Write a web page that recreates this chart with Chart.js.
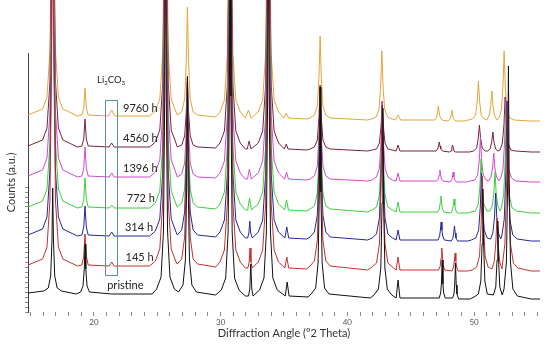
<!DOCTYPE html>
<html><head><meta charset="utf-8">
<script src="https://cdn.jsdelivr.net/npm/chart.js@4/dist/chart.umd.min.js"></script>
<style>html,body{margin:0;padding:0;background:#fff}#wrap{width:550px;height:344px;position:relative}</style>
</head><body><div id="wrap"><canvas id="c"></canvas></div>
<script>
// ---- data (2-theta in degrees, intensity in a.u. above each trace's own baseline) ----
const seriesNames = ['pristine','145 h','314 h','772 h','1396 h','4560 h','9760 h'];
const seriesOffsets = [19, 47, 77, 105, 136, 166, 197];
const seriesColors = ['#111111','#c62f2f','#23289c','#3ccf3c','#cf4acf','#7b2336','#e6a53a'];

const pristine = [[14.8,0],
[16.05,2],[16.40,5],[16.59,17],[16.69,52],[16.75,105],[16.81,52],[16.91,17],[17.10,5],[17.45,2],
[18.6,-1],
[18.95,1],[19.14,7],[19.24,24],[19.3,49],[19.36,24],[19.46,7],[19.65,1],
[21.4,-1],[24.6,-1],
[24.95,4],[25.30,16],[25.49,62],[25.59,198],[25.65,398],[25.71,198],[25.81,62],[26.00,16],[26.35,4],
[26.68,1],[27.03,8],[27.22,33],[27.32,107],[27.38,216],[27.44,107],[27.54,33],[27.73,8],[28.08,1],
[29.6,-2],
[30.05,3],[30.40,15],[30.59,61],[30.69,197],[30.75,397],[30.81,197],[30.91,61],[31.10,15],[31.45,3],
[31.95,-3],
[32.2,-3],[32.3,4],[32.38,29],[32.46,4],[32.56,-3],
[33.07,3],[33.42,15],[33.61,61],[33.71,197],[33.77,397],[33.83,197],[33.93,61],[34.12,15],[34.47,3],
[35.1,-3],[35.25,11],[35.4,-3],
[36.9,-4],
[37.15,-1],[37.50,5],[37.69,30],[37.79,101],[37.85,206],[37.91,101],[38.01,30],[38.20,5],[38.55,-1],
[41.8,-5],
[42.10,-2],[42.45,4],[42.64,25],[42.74,90],[42.80,185],[42.86,90],[42.96,25],[43.15,4],[43.5,-2],
[43.85,-5],[44.0,13],[44.15,-5],
[47.25,-5],[47.36,0],[47.42,9],[47.48,33],[47.54,9],[47.6,0],[47.72,-5],
[48.3,-5],[48.41,-1],[48.47,8],[48.53,30],[48.59,8],[48.65,-1],[48.78,-6],
[49.7,-6],
[49.99,-4],[50.34,-1],[50.53,12],[50.63,49],[50.69,104],[50.75,49],[50.85,12],[51.04,-1],
[51.52,-2],[51.71,6],[51.81,33],[51.87,72],[51.93,33],[52.03,6],[52.22,-2],
[52.36,4],[52.55,31],[52.65,111],[52.71,227],[52.77,111],[52.87,31],[53.06,4],[53.41,-3],
[54.5,-6],[55.2,-6]];

const h145 = [[14.8,0],
[15.95,6],[16.30,18],[16.53,64],[16.66,200],[16.75,400],[16.84,200],[16.97,64],[17.20,18],[17.55,6],
[18.7,-1],
[19.05,0],[19.2,9],[19.3,31],[19.4,9],[19.55,0],
[21.2,-1],[21.4,3],[21.6,-1],
[24.4,-1],
[24.85,4],[25.20,16],[25.43,62],[25.56,198],[25.65,398],[25.74,198],[25.87,62],[26.10,16],[26.45,4],
[26.58,1],[26.93,6],[27.16,28],[27.29,90],[27.38,183],[27.47,90],[27.60,28],[27.83,6],[28.18,1],
[29.6,-2],
[29.95,3],[30.30,15],[30.53,61],[30.66,197],[30.75,397],[30.84,197],[30.97,61],[31.20,15],[31.55,3],
[31.95,-3],
[32.15,-3],[32.25,3],[32.32,17],[32.39,3],[32.5,-3],
[32.97,3],[33.32,15],[33.55,61],[33.68,197],[33.77,397],[33.86,197],[33.99,61],[34.22,15],[34.57,3],
[35.07,-3],[35.22,8],[35.37,-3],
[36.8,-4],
[37.05,-1],[37.40,4],[37.63,25],[37.76,86],[37.85,176],[37.94,86],[38.07,25],[38.30,4],[38.65,-1],
[41.6,-5],
[41.95,-2],[42.30,2],[42.53,21],[42.66,78],[42.75,160],[42.84,78],[42.97,21],[43.20,2],[43.55,-2],
[43.85,-5],[44.0,8],[44.15,-5],
[47.2,-5],[47.33,-1],[47.39,7],[47.45,17],[47.51,7],[47.57,-1],[47.7,-5],
[48.25,-6],[48.38,-2],[48.44,4],[48.5,12],[48.56,4],[48.62,-2],[48.75,-6],
[49.5,-6],
[49.85,-5],[50.20,-2],[50.43,9],[50.56,42],[50.65,89],[50.74,42],[50.87,9],[51.10,-2],
[51.40,-4],[51.58,3],[51.71,21],[51.8,47],[51.89,21],[52.02,3],[52.20,-4],
[52.25,2],[52.43,21],[52.56,79],[52.65,164],[52.74,79],[52.87,21],[53.10,2],[53.45,-3],
[54.5,-6],[55.2,-6]];

const h314 = [[14.8,0],
[15.95,6],[16.30,18],[16.53,64],[16.66,200],[16.75,400],[16.84,200],[16.97,64],[17.20,18],[17.55,6],
[18.7,-1],
[19.05,0],[19.2,8],[19.3,29],[19.4,8],[19.55,0],
[21.2,-1],[21.4,3],[21.6,-1],
[24.4,-1],
[24.85,4],[25.20,16],[25.43,62],[25.56,198],[25.65,398],[25.74,198],[25.87,62],[26.10,16],[26.45,4],
[26.58,0],[26.93,5],[27.16,23],[27.29,76],[27.38,153],[27.47,76],[27.60,23],[27.83,5],[28.18,0],
[29.6,-2],
[29.95,3],[30.30,15],[30.53,61],[30.66,197],[30.75,397],[30.84,197],[30.97,61],[31.20,15],[31.55,3],
[31.95,-3],
[32.13,-3],[32.23,2],[32.3,14],[32.37,2],[32.5,-3],
[32.97,3],[33.32,15],[33.55,61],[33.68,197],[33.77,397],[33.86,197],[33.99,61],[34.22,15],[34.57,3],
[35.07,-3],[35.22,8],[35.37,-3],
[36.8,-4],
[37.05,-2],[37.40,3],[37.63,20],[37.76,71],[37.85,146],[37.94,71],[38.07,20],[38.30,3],[38.65,-2],
[41.6,-5],
[41.95,-3],[42.30,1],[42.53,17],[42.66,63],[42.75,130],[42.84,63],[42.97,17],[43.20,1],[43.55,-3],
[43.85,-5],[44.0,5],[44.15,-5],
[47.15,-5],[47.28,-1],[47.34,5],[47.4,13],[47.46,5],[47.52,-1],[47.65,-5],
[48.2,-6],[48.33,-3],[48.39,2],[48.45,9],[48.51,2],[48.57,-3],[48.7,-6],
[49.5,-6],
[49.78,-5],[50.13,-3],[50.36,5],[50.49,28],[50.58,62],[50.67,28],[50.80,5],[51.03,-3],
[51.30,-4],[51.48,2],[51.61,18],[51.7,42],[51.79,18],[51.92,2],[52.10,-4],
[52.20,0],[52.38,16],[52.51,64],[52.6,134],[52.69,64],[52.82,16],[53.05,0],[53.40,-4],
[54.5,-6],[55.2,-6]];

const h772 = [[14.8,0],
[15.95,6],[16.30,18],[16.53,64],[16.66,200],[16.75,400],[16.84,200],[16.97,64],[17.20,18],[17.55,6],
[18.7,-1],
[19.05,0],[19.2,8],[19.3,29],[19.4,8],[19.55,0],
[21.2,-1],[21.4,2],[21.6,-1],
[24.4,-1],
[24.85,4],[25.20,16],[25.43,62],[25.56,198],[25.65,398],[25.74,198],[25.87,62],[26.10,16],[26.45,4],
[26.58,0],[26.93,4],[27.16,18],[27.29,60],[27.38,123],[27.47,60],[27.60,18],[27.83,4],[28.18,0],
[29.6,-2],
[29.95,3],[30.30,15],[30.53,61],[30.66,197],[30.75,397],[30.84,197],[30.97,61],[31.20,15],[31.55,3],
[31.95,-3],
[32.13,-3],[32.28,9],[32.43,-3],
[32.97,3],[33.32,15],[33.55,61],[33.68,197],[33.77,397],[33.86,197],[33.99,61],[34.22,15],[34.57,3],
[35.05,-3],[35.2,7],[35.35,-3],
[36.8,-4],
[37.05,-2],[37.40,1],[37.63,14],[37.76,53],[37.85,111],[37.94,53],[38.07,14],[38.30,1],[38.65,-2],
[41.6,-5],
[41.95,-3],[42.30,0],[42.53,12],[42.66,47],[42.75,100],[42.84,47],[42.97,12],[43.20,0],[43.55,-3],
[43.85,-5],[44.0,5],[44.15,-5],
[47.13,-5],[47.26,-2],[47.32,4],[47.38,11],[47.44,4],[47.5,-2],[47.63,-5],
[48.17,-6],[48.3,-3],[48.36,2],[48.42,8],[48.48,2],[48.54,-3],[48.67,-6],
[49.5,-6],
[49.75,-5],[50.10,-4],[50.33,3],[50.46,21],[50.55,48],[50.64,21],[50.77,3],[51.00,-4],
[51.25,-4],[51.43,1],[51.56,14],[51.65,35],[51.74,14],[51.87,1],[52.05,-4],
[52.15,-1],[52.33,12],[52.46,49],[52.55,104],[52.64,49],[52.77,12],[53.00,-1],[53.35,-4],
[54.5,-6],[55.2,-6]];

const h1396 = [[14.8,0],
[15.95,6],[16.30,18],[16.53,64],[16.66,200],[16.75,400],[16.84,200],[16.97,64],[17.20,18],[17.55,6],
[18.7,-1],
[19.05,0],[19.2,8],[19.3,29],[19.4,8],[19.55,0],
[21.2,-1],[21.4,3],[21.6,-1],
[24.4,-1],
[24.85,4],[25.20,16],[25.43,62],[25.56,198],[25.65,398],[25.74,198],[25.87,62],[26.10,16],[26.45,4],
[26.58,-1],[26.93,2],[27.16,13],[27.29,45],[27.38,93],[27.47,45],[27.60,13],[27.83,2],[28.18,-1],
[29.6,-2],
[29.95,3],[30.30,15],[30.53,61],[30.66,197],[30.75,397],[30.84,197],[30.97,61],[31.20,15],[31.55,3],
[31.95,-3],
[32.12,-3],[32.27,7],[32.42,-3],
[32.97,3],[33.32,15],[33.55,61],[33.68,197],[33.77,397],[33.86,197],[33.99,61],[34.22,15],[34.57,3],
[35.05,-3],[35.2,4],[35.35,-3],
[36.8,-4],
[37.05,-3],[37.40,0],[37.63,10],[37.76,41],[37.85,86],[37.94,41],[38.07,10],[38.30,0],[38.65,-3],
[41.6,-5],
[41.95,-4],[42.30,-1],[42.53,8],[42.66,35],[42.75,75],[42.84,35],[42.97,8],[43.20,-1],[43.55,-4],
[43.85,-5],[44.0,3],[44.15,-5],
[47.05,-5],[47.18,-3],[47.24,1],[47.3,6],[47.36,1],[47.42,-3],[47.55,-5],
[48.1,-6],[48.23,-4],[48.29,-1],[48.35,4],[48.41,-1],[48.47,-4],[48.6,-6],
[49.4,-6],
[49.70,-5],[50.05,-4],[50.28,1],[50.41,16],[50.5,39],[50.59,16],[50.72,1],[50.95,-4],
[51.15,-5],[51.33,-1],[51.46,8],[51.55,23],[51.64,8],[51.77,-1],[51.95,-5],
[52.10,-2],[52.28,7],[52.41,35],[52.5,76],[52.59,35],[52.72,7],[52.95,-2],[53.30,-5],
[54.5,-6],[55.2,-6]];

const h4560 = [[14.8,0],
[15.95,6],[16.30,18],[16.53,64],[16.66,200],[16.75,400],[16.84,200],[16.97,64],[17.20,18],[17.55,6],
[18.7,-1],
[19.05,0],[19.2,7],[19.3,27],[19.4,7],[19.55,0],
[21.2,-1],[21.4,3],[21.6,-1],
[24.4,-1],
[24.85,4],[25.20,16],[25.43,62],[25.56,198],[25.65,398],[25.74,198],[25.87,62],[26.10,16],[26.45,4],
[26.58,-1],[26.93,1],[27.16,10],[27.29,34],[27.38,70],[27.47,34],[27.60,10],[27.83,1],[28.18,-1],
[29.6,-2],
[29.95,3],[30.30,15],[30.53,61],[30.66,197],[30.75,397],[30.84,197],[30.97,61],[31.20,15],[31.55,3],
[31.95,-3],
[32.1,-3],[32.25,5],[32.4,-3],
[32.97,3],[33.32,15],[33.55,61],[33.68,197],[33.77,397],[33.86,197],[33.99,61],[34.22,15],[34.57,3],
[35.03,-3],[35.18,2],[35.33,-3],
[36.8,-4],
[37.05,-3],[37.40,-1],[37.63,6],[37.76,29],[37.85,61],[37.94,29],[38.07,6],[38.30,-1],[38.65,-3],
[41.6,-5],
[41.95,-4],[42.30,-3],[42.53,3],[42.66,20],[42.75,45],[42.84,20],[42.97,3],[43.20,-3],[43.55,-4],
[43.85,-5],[44.0,1],[44.15,-5],
[47.0,-5],[47.13,-3],[47.19,0],[47.25,4],[47.31,0],[47.37,-3],[47.5,-5],
[48.05,-6],[48.18,-5],[48.24,-2],[48.3,1],[48.36,-2],[48.42,-5],[48.55,-6],
[49.3,-6],
[49.62,-6],[49.97,-5],[50.20,-2],[50.33,8],[50.42,21],[50.51,8],[50.64,-2],[50.87,-5],
[51.08,-5],[51.26,-3],[51.39,4],[51.48,14],[51.57,4],[51.70,-3],[51.88,-5],
[52.05,-4],[52.23,3],[52.36,22],[52.45,49],[52.54,22],[52.67,3],[52.90,-4],[53.25,-5],
[54.5,-6],[55.2,-6]];

const h9760 = [[14.8,0],
[15.95,6],[16.30,18],[16.53,64],[16.66,200],[16.75,400],[16.84,200],[16.97,64],[17.20,18],[17.55,6],
[18.7,-1],
[19.05,0],[19.2,7],[19.3,27],[19.4,7],[19.55,0],
[21.15,-1],[21.4,5],[21.65,-1],
[24.4,-1],
[24.85,4],[25.20,16],[25.43,62],[25.56,198],[25.65,398],[25.74,198],[25.87,62],[26.10,16],[26.45,4],
[26.58,0],[26.93,3],[27.16,16],[27.29,53],[27.38,108],[27.47,53],[27.60,16],[27.83,3],[28.18,0],
[29.6,-2],
[29.95,3],[30.30,15],[30.53,61],[30.66,197],[30.75,397],[30.84,197],[30.97,61],[31.20,15],[31.55,3],
[31.95,-3],
[32.0,-3],[32.2,5],[32.4,-3],
[32.97,3],[33.32,15],[33.55,61],[33.68,197],[33.77,397],[33.86,197],[33.99,61],[34.22,15],[34.57,3],
[35.0,-3],[35.18,2],[35.36,-3],
[36.8,-4],
[37.05,-3],[37.40,0],[37.63,9],[37.76,38],[37.85,79],[37.94,38],[38.07,9],[38.30,0],[38.65,-3],
[41.6,-5],
[41.92,-4],[42.27,-2],[42.50,6],[42.63,30],[42.72,64],[42.81,30],[42.94,6],[43.17,-2],[43.52,-4],
[43.8,-5],[44.0,0],[44.2,-5],
[46.9,-5],[47.05,-2],[47.12,3],[47.18,9],[47.24,3],[47.31,-2],[47.46,-5],
[47.96,-6],[48.11,-4],[48.18,0],[48.24,5],[48.30,0],[48.37,-4],[48.52,-6],
[49.2,-6],
[49.54,-5],[49.89,-4],[50.12,0],[50.25,14],[50.34,34],[50.43,14],[50.56,0],[50.79,-4],
[51.00,-5],[51.18,-1],[51.31,9],[51.4,24],[51.49,9],[51.62,-1],[51.80,-5],
[51.97,-3],[52.15,5],[52.28,29],[52.37,64],[52.46,29],[52.59,5],[52.82,-3],[53.17,-5],
[54.5,-6],[55.2,-6]];

const seriesData = [pristine, h145, h314, h772, h1396, h4560, h9760];

const xTickLabels = [20, 30, 40, 50];
const yTickValues = [0,5,10,15,20,25,30,35,40,45,50,55,60,65,70,75,80,85,90,95,100,105,110,115,120,125];

// text annotations: [text, x (deg), y (a.u.)]
const traceLabels = [
  ['9760 h', 22.3, 204], ['4560 h', 22.3, 174], ['1396 h', 22.3, 144],
  ['772 h', 22.6, 114], ['314 h', 22.45, 85], ['145 h', 22.5, 55], ['pristine', 21.05, 27]
];
const li2co3Label = {x: 20.25, y: 232};
const li2co3Box = {x0: 20.89, x1: 21.85, y0: 37, y1: 212};

// ---- chart ----
const datasets = seriesData.map((arr, i) => ({
  label: seriesNames[i],
  data: arr.map(p => ({x: p[0], y: p[1] + seriesOffsets[i]})),
  borderColor: seriesColors[i],
  borderWidth: 1,
  pointRadius: 0,
  tension: 0,
  fill: false,
  clip: {left: 2, top: 60, right: 2, bottom: 0}
}));

const annotate = {
  id: 'annotate',
  afterDatasetsDraw(chart) {
    const {ctx} = chart;
    const xs = chart.scales.x, ys = chart.scales.y;
    ctx.save();
    ctx.strokeStyle = '#5d918b';
    ctx.lineWidth = 1;
    const bx0 = Math.round(xs.getPixelForValue(li2co3Box.x0)) + 0.5;
    const bx1 = Math.round(xs.getPixelForValue(li2co3Box.x1)) + 0.5;
    const by0 = Math.round(ys.getPixelForValue(li2co3Box.y0)) + 0.5;
    const by1 = Math.round(ys.getPixelForValue(li2co3Box.y1)) + 0.5;
    ctx.strokeRect(bx0, by1, bx1 - bx0, by0 - by1);

    ctx.fillStyle = '#222';
    ctx.textBaseline = 'middle';
    ctx.textAlign = 'left';
    ctx.font = '11px Lato';
    for (const [t, x, y] of traceLabels) {
      ctx.fillText(t, xs.getPixelForValue(x), ys.getPixelForValue(y));
    }
    let px = xs.getPixelForValue(li2co3Label.x);
    const py = ys.getPixelForValue(li2co3Label.y);
    const parts = [['Li', false], ['2', true], ['CO', false], ['3', true]];
    for (const [s, sub] of parts) {
      ctx.font = sub ? '6px Lato' : '9.5px Lato';
      ctx.fillText(s, px, sub ? py + 3 : py);
      px += ctx.measureText(s).width;
    }
    ctx.restore();
  }
};

new Chart(document.getElementById('c'), {
  type: 'line',
  data: {datasets},
  options: {
    responsive: true,
    maintainAspectRatio: false,
    animation: false,
    layout: {padding: {top: 53, right: 10, left: 0, bottom: 0}},
    plugins: {legend: {display: false}, tooltip: {enabled: false}},
    scales: {
      x: {
        type: 'linear', min: 14.8, max: 55.2,
        border: {display: false},
        grid: {drawOnChartArea: false, drawTicks: true, tickLength: 4, color: '#8a8a8a'},
        ticks: {
          stepSize: 1, autoSkip: false, maxRotation: 0, includeBounds: false, padding: 2,
          font: {family: 'Lato', size: 8}, color: '#555',
          callback: v => (Math.abs(v - Math.round(v)) < 1e-6 && xTickLabels.includes(Math.round(v))) ? String(Math.round(v)) : ''
        },
        title: {display: true, text: 'Diffraction Angle (°2 Theta)', font: {family: 'Lato', size: 11}, color: '#333', padding: {top: 0, bottom: 4}},
        afterFit: s => { s.height = 32; }
      },
      y: {
        type: 'linear', min: 0, max: 259,
        border: {display: true, color: '#444', width: 1},
        grid: {drawOnChartArea: false, drawTicks: true, tickLength: 3, color: '#8a8a8a'},
        afterBuildTicks: s => { s.ticks = yTickValues.map(v => ({value: v})); },
        ticks: {callback: () => '', padding: 0, autoSkip: false},
        title: {display: true, text: 'Counts (a.u.)', font: {family: 'Lato', size: 11}, color: '#333', padding: {top: 5, bottom: 0}},
        afterFit: s => { s.width = 28; }
      }
    }
  },
  plugins: [annotate]
});
</script>
</body></html>
